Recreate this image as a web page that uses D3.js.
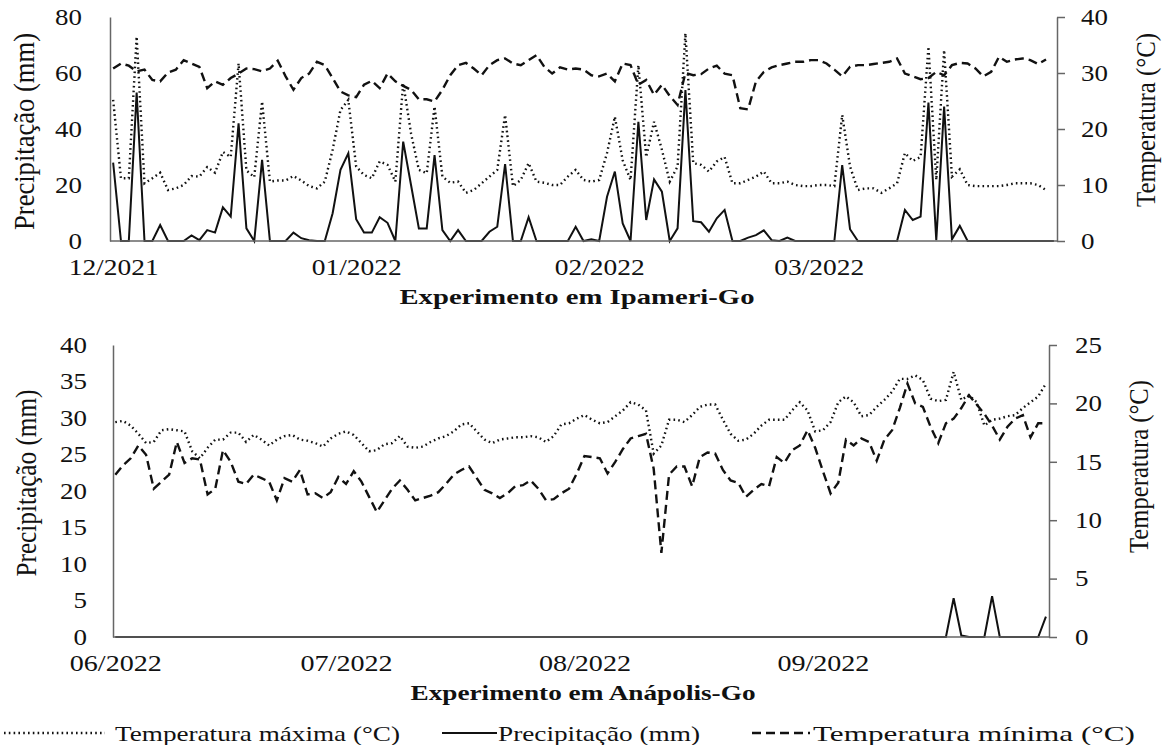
<!DOCTYPE html>
<html><head><meta charset="utf-8">
<script src="https://cdn.jsdelivr.net/npm/d3@7"></script>
<style>
html,body{margin:0;padding:0;background:#fff;}
svg text{font-family:"Liberation Serif","Times New Roman",serif;fill:#111;}
</style></head>
<body><svg id="c" width="1167" height="745"></svg>
<script>
// ---------------- DATA ----------------
const ipaMonthLabels = ["12/2021","01/2022","02/2022","03/2022"];
const ipaMonthIndex = [0,31,62,90];
const ipaPrecip = [28,0,0,53,0,0,5.7,0,0,0,
2,0.3,3.9,3,12,8.7,42,4.5,0,29,
0,0,0,3,1,0.3,0,0,9.9,25.4,
31.3,7.8,3,3,8.5,6.5,0,35.5,20,4.5,
4.5,30.7,3.9,0,3.9,0,0,0,3.3,5.1,
27.5,0,0,8.5,0,0,0,0,0,5.1,
0,0.6,0,15.8,24.8,6.3,0,42.6,7.5,22,
17.6,0,4.5,53.9,7.1,6.7,3.3,8.1,11.1,0,
0,1.2,2.1,3.8,0.3,0,1.2,0,0,0,
0,0,0,27.1,4.2,0,0,0,0,0,
0,11.1,7.5,8.7,49.4,0.3,48,0.6,5.4,0,
0,0,0,0,0,0,0,0,0,0,0];
const ipaTmax = [25.2,11.2,11.2,36.5,10.3,11.2,12.2,9.1,9.4,10,
11.6,11.5,13.2,12.2,15.9,15,31.7,12.6,11.4,24.9,
10.6,10.8,10.8,11.6,10.8,9.8,9.4,10.6,16.3,23.4,
25.2,13.3,11.8,11.2,14.2,13.6,10.6,28.2,19.2,12.7,
12.1,24,11.5,10.4,10.6,8.6,9.1,10.3,11.5,12.7,
22.5,9.8,10.9,13.9,10.6,10.4,10,10,11.5,12.7,
10.9,10.6,10.9,15.7,22.2,14.4,10.9,31.4,15,21.3,
16.3,10.6,13.3,37.1,13.9,13.6,12.4,14.2,15,10.3,
10.3,10.9,11.5,12.4,10.3,10.3,10.6,10,9.8,9.8,
10,10,9.8,22.5,13.3,9.1,9.4,9.4,8.6,9.4,
10.3,15.7,14.3,15,34.7,10.9,34.1,11.5,12.8,10,
9.8,9.8,9.8,9.8,10,10.3,10.3,10.3,10,9.1];
const ipaTmin = [30.8,31.7,31.3,30.3,30.6,28.75,28.5,30.1,30.6,32.3,
31.7,31.1,27.3,28.5,27.9,29.1,29.9,30.8,30.7,30.3,
30.8,32.2,29.4,27,29.1,29.9,32,31.4,29.1,26.7,
26,25.7,27.9,28.6,27.3,29.9,28.5,27.7,27,25.3,
25.3,24.9,27,29.6,31.4,31.8,30.8,29.6,31.4,32.3,
32.6,31.7,31.4,32.3,33.2,31.1,29.9,31,30.6,30.8,
30.6,29.6,29.4,29.9,28.5,31.7,31.4,27.9,28.75,26.1,
27.9,25.9,24.3,30,29.6,29.8,30.8,31.3,29.9,29.6,
23.7,23.5,28.5,30.2,31,31.4,31.7,32,32,32.3,
32.3,31.7,30.6,29.4,31.1,31.4,31.4,31.6,31.8,32,
32.6,29.9,29.4,28.9,29.1,30.2,29.6,31.4,31.8,31.7,
30.8,29.4,30.2,32.9,32,32.4,32.6,32.3,31.6,32.4];

const anaMonthLabels = ["06/2022","07/2022","08/2022","09/2022"];
const anaMonthIndex = [0,30,61,92];
const anaPrecip = [0,0,0,0,0,0,0,0,0,0,
0,0,0,0,0,0,0,0,0,0,
0,0,0,0,0,0,0,0,0,0,
0,0,0,0,0,0,0,0,0,0,
0,0,0,0,0,0,0,0,0,0,
0,0,0,0,0,0,0,0,0,0,
0,0,0,0,0,0,0,0,0,0,
0,0,0,0,0,0,0,0,0,0,
0,0,0,0,0,0,0,0,0,0,
0,0,0,0,0,0,0,0,0,0,
0,0,0,0,0,0,0,0,0,5.3,
0.2,0,0,0,5.6,0,0,0,0,0,
0,2.8];
const anaTmax = [18.4,18.5,18.1,17.4,16.6,16.7,17.7,17.8,17.7,17.6,
15.9,15.3,16.2,16.9,16.9,17.5,17.5,16.7,17.3,16.9,
16.4,16.9,17.2,17.3,16.9,16.8,16.6,16.3,17.0,17.4,
17.6,17.3,16.6,15.9,16.0,16.5,16.6,17.2,16.3,16.2,
16.3,16.7,17.0,17.2,17.6,18.2,18.3,17.6,16.9,16.6,
16.9,17.0,17.1,17.1,17.2,17.1,16.7,17.2,18.2,18.3,
18.7,19.0,18.6,18.3,18.4,18.9,19.4,20.1,19.9,19.4,
15.7,16.4,18.6,18.6,18.4,19.0,19.7,19.9,19.9,18.6,
17.4,16.8,16.9,17.4,18.1,18.6,18.6,18.6,19.4,20.1,
19.4,17.6,17.7,18.4,20.1,20.6,20.1,18.9,19.0,19.7,
20.3,21.0,22.1,22.1,22.4,22.0,20.4,20.2,20.3,22.7,
20.3,20.7,20.1,18.1,18.6,18.7,18.9,19.0,19.6,20.1,
20.6,21.7];
const anaTmin = [13.9,14.7,15.3,16.4,15.6,12.7,13.3,13.9,16.7,14.9,
15.3,15.2,12.2,12.7,16.0,15.0,13.3,13.1,13.9,13.6,
13.3,11.7,13.6,13.3,14.3,12.2,12.3,11.9,12.4,13.7,
13.1,14.2,13.3,12.0,10.7,11.7,12.7,13.4,12.6,11.7,
11.9,12.1,12.4,13.1,13.9,14.3,14.6,13.6,12.6,12.3,
11.9,12.3,12.9,13.0,13.4,12.7,11.7,11.8,12.3,12.7,
14.0,15.5,15.4,15.3,14.0,15.0,16.1,17.0,17.2,17.4,
14.4,7.2,13.9,14.6,14.6,12.9,15.4,15.8,15.7,14.3,
13.4,13.2,12.0,12.6,13.1,12.9,15.4,14.9,16.0,16.4,
17.7,16.2,14.2,12.3,13.2,16.9,16.4,17.0,16.7,15.1,
16.9,17.7,19.6,21.7,20.0,19.7,18.0,16.6,18.3,18.7,
19.6,20.7,19.9,19.1,18.1,16.9,18.0,18.7,19.0,17.1,
18.3,18.3];

const ipaPrecipTicks = [0,20,40,60,80];
const ipaTempTicks = [0,10,20,30,40];
const anaPrecipTicks = [0,5,10,15,20,25,30,35,40];
const anaTempTicks = [0,5,10,15,20,25];

const legendLabels = ["Temperatura máxima (°C)","Precipitação (mm)","Temperatura mínima (°C)"];
const titles = ["Experimento em Ipameri-Go","Experimento em Anápolis-Go"];

// ---------------- DRAW ----------------
const svg = d3.select("#c");
const DOT = "1.6 3.2", DASH = "9 5";

function widen(sel, sx){
  sel.each(function(){
    const w = this.getComputedTextLength();
    this.setAttribute("textLength", (w*sx).toFixed(1));
    this.setAttribute("lengthAdjust","spacingAndGlyphs");
  });
}
function fitLen(sel, len){
  sel.attr("textLength",len).attr("lengthAdjust","spacingAndGlyphs");
}

function panel(cfg){
  const x = d3.scaleLinear().domain(cfg.xDomain).range([cfg.left, cfg.right]);
  const yP = d3.scaleLinear().domain(cfg.pDomain).range([cfg.bottom, cfg.top]);
  const yT = d3.scaleLinear().domain(cfg.tDomain).range([cfg.bottom, cfg.top]);
  const g = svg.append("g");
  const line = (ys)=> d3.line().x((d,i)=>x(i)).y(d=>ys(d));
  g.append("path").datum(cfg.tmin).attr("d", line(yT)).attr("fill","none")
    .attr("stroke","#111").attr("stroke-width",2.4).attr("stroke-dasharray",DASH);
  g.append("path").datum(cfg.tmax).attr("d", line(yT)).attr("fill","none")
    .attr("stroke","#111").attr("stroke-width",2.4).attr("stroke-dasharray",DOT);
  g.append("path").datum(cfg.precip).attr("d", line(yP)).attr("fill","none")
    .attr("stroke","#111").attr("stroke-width",2).attr("stroke-linejoin","miter");
  const la = g.append("g").attr("transform",`translate(${cfg.left},0)`)
    .call(d3.axisLeft(yP).tickValues(cfg.pTicks).tickSize(0).tickPadding(cfg.lPad));
  la.select(".domain").attr("stroke","#666").attr("stroke-width",1.5);
  la.selectAll("text").style("font-size",cfg.tickFs+"px").attr("fill","#111").call(widen,1.17);
  const ra = g.append("g").attr("transform",`translate(${cfg.right},0)`)
    .call(d3.axisRight(yT).tickValues(cfg.tTicks).tickSize(8).tickSizeOuter(0).tickPadding(cfg.rPad));
  ra.select(".domain").attr("stroke","#666").attr("stroke-width",1.5);
  ra.selectAll("line").attr("stroke","#666").attr("stroke-width",1.5);
  ra.selectAll("text").style("font-size",cfg.tickFs+"px").attr("fill","#111").call(widen,1.17);
  const ba = g.append("g").attr("transform",`translate(0,${cfg.bottom})`)
    .call(d3.axisBottom(x).tickValues(cfg.monthIndex).tickFormat((d,i)=>cfg.monthLabels[i])
      .tickSize(0).tickPadding(cfg.bPad));
  ba.select(".domain").attr("stroke","#666").attr("stroke-width",1.5)
    .attr("d",`M${cfg.left},0H${cfg.right}`);
  ba.selectAll("text").style("font-size",cfg.xFs+"px").attr("fill","#111").call(fitLen,cfg.xLen);
  g.append("text").attr("transform",`translate(${cfg.ltx},${cfg.lty}) rotate(-90)`)
    .attr("text-anchor","middle").attr("dominant-baseline","central")
    .style("font-size",cfg.lFs+"px").text("Precipitação (mm)").call(fitLen,cfg.lLen);
  g.append("text").attr("transform",`translate(${cfg.rtx},${cfg.rty}) rotate(-90)`)
    .attr("text-anchor","middle").attr("dominant-baseline","central")
    .style("font-size",cfg.rFs+"px").text("Temperatura (°C)").call(fitLen,cfg.rLen);
  g.append("text").attr("x",cfg.ttx).attr("y",cfg.tty).attr("text-anchor","middle")
    .attr("dominant-baseline","central").style("font-size","21px").style("font-weight","bold")
    .text(cfg.title).call(fitLen,cfg.tLen);
}

panel({xDomain:[-0.4,120.4], left:110, right:1057, top:17, bottom:241,
  pDomain:[0,80], tDomain:[0,40], pTicks:ipaPrecipTicks, tTicks:ipaTempTicks,
  precip:ipaPrecip, tmax:ipaTmax, tmin:ipaTmin,
  monthIndex:ipaMonthIndex, monthLabels:ipaMonthLabels,
  lPad:28, rPad:16, bPad:18, tickFs:23, xFs:23, xLen:90,
  lFs:30, lLen:197, rFs:28, rLen:174,
  ltx:23.5, lty:131.5, rtx:1145.5, rty:120, ttx:577, tty:297, tLen:355, title:titles[0]});

panel({xDomain:[-0.3,121.4], left:113, right:1049, top:345, bottom:637,
  pDomain:[0,40], tDomain:[0,25], pTicks:anaPrecipTicks, tTicks:anaTempTicks,
  precip:anaPrecip, tmax:anaTmax, tmin:anaTmin,
  monthIndex:anaMonthIndex, monthLabels:anaMonthLabels,
  lPad:26, rPad:18, bPad:18, tickFs:23, xFs:23, xLen:92,
  lFs:30, lLen:187, rFs:28, rLen:173,
  ltx:25, lty:483, rtx:1138.5, rty:466.5, ttx:583, tty:693, tLen:345, title:titles[1]});

// legend
const lg = svg.append("g");
const ly = 733;
const items = [
  {x1:4,x2:105,tx:115,dash:DOT,w:2.4,len:285},
  {x1:442,x2:497,tx:498,dash:null,w:2,len:202},
  {x1:752,x2:810,tx:813,dash:DASH,w:2.4,len:322}
];
items.forEach((it,i)=>{
  const l = lg.append("line").attr("x1",it.x1).attr("x2",it.x2).attr("y1",ly).attr("y2",ly)
    .attr("stroke","#111").attr("stroke-width",it.w);
  if(it.dash) l.attr("stroke-dasharray",it.dash);
  lg.append("text").attr("x",it.tx).attr("y",ly).attr("dominant-baseline","central")
    .style("font-size","22px").text(legendLabels[i]).call(fitLen,it.len);
});
</script></body></html>
